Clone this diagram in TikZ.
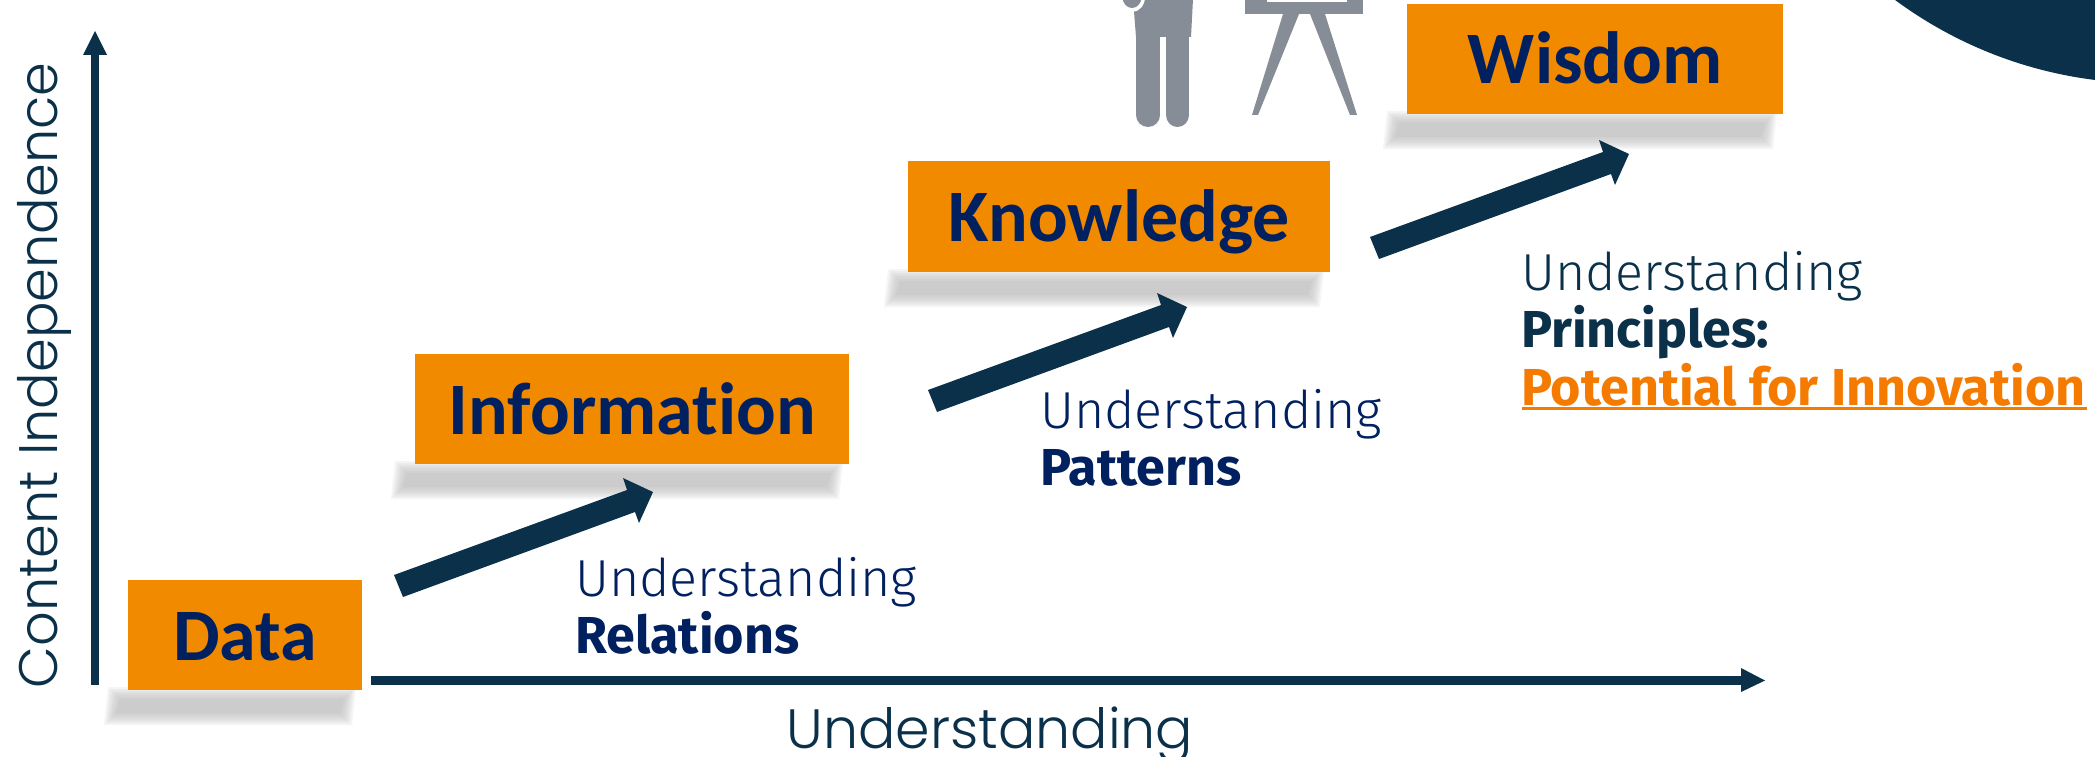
\documentclass[tikz,border=0pt]{standalone}
\usepackage{fontspec}
\setmainfont{Liberation Sans}
\newfontfamily\boxfont[Ligatures=NoCommon]{Carlito}
\newfontfamily\labfont[UprightFont={* Light},BoldFont={* Bold}]{Fira Sans}
\newfontfamily\axfont[UprightFont={* Light}]{Poppins}
\definecolor{navy}{HTML}{0B3049}
\definecolor{blue}{HTML}{002060}
\definecolor{org}{HTML}{F28A00}
\definecolor{orgtext}{HTML}{F47B00}
\definecolor{gr}{HTML}{878D96}
\tikzset{x=1pt,y=-1pt,
 lvl/.style={fill=org,draw=none,inner sep=0,text height=80pt,text depth=30pt,font=\boxfont\bfseries\fontsize{74}{74}\selectfont,text=blue,anchor=north west},
 lab/.style={anchor=north west,inner sep=0,align=left,font=\labfont\fontsize{52}{57.5}\selectfont},
 ax/.style={inner sep=0,text=navy,anchor=base,font=\axfont\fontsize{54.2}{54.2}\selectfont}}
% soft shadow under a box: left, right, bottom
\newcommand{\softshadow}[3]{%
 \foreach \e/\g in {12/4,10/8,8/11,6/14,4/16,2/18,0/20}{%
  \fill[black!\g] (#1-8-\e,#3+9-\e) -- (#2-18+\e,#3+9-\e) -- (#2-22+\e,#3+23+\e) -- (#1-12-\e,#3+23+\e) -- cycle;}}
\newcommand{\fatarrow}[2]{%
 \fill[navy,shift={(#1,#2)}] (0,0) -- (233,-85) -- (229,-97) -- (259,-83) -- (245,-52) -- (241,-63) -- (9,22) -- cycle;}
\begin{document}
\begin{tikzpicture}
\useasboundingbox (0,0) rectangle (2095,757);
\fill[white] (0,0) rectangle (2095,757);
\begin{scope}
\clip (0,0) rectangle (2095,757);
\fill[navy] (2148.5,-343.7) circle (427);
% person
\fill[gr] (1133,-1) -- (1193,-1) -- (1191,37) -- (1136,37) -- cycle;
\fill[white] (1132,-3) ellipse (13 and 15);
\fill[gr] (1132,-3) ellipse (9.5 and 11);
\fill[gr] (1136,36) rectangle (1160,115);
\fill[gr] (1148,115) ellipse (12 and 12);
\fill[gr] (1166,36) rectangle (1189,115);
\fill[gr] (1177.5,115) ellipse (11.5 and 12);
% easel
\fill[gr] (1245,-1) rectangle (1363,14);
\fill[white] (1267,-1) rectangle (1347,2);
\fill[gr] (1283,14) -- (1299,14) -- (1258,115) -- (1252,115) -- cycle;
\fill[gr] (1310,14) -- (1325,14) -- (1357,115) -- (1350,115) -- cycle;
\end{scope}
% shadows
\softshadow{128}{362}{690}
\softshadow{415}{849}{464}
\softshadow{908}{1330}{272}
\softshadow{1407}{1783}{114}
% boxes
\node[lvl,minimum width=234,minimum height=110] (data) at (128,580) {Data};
\node[lvl,minimum width=434,minimum height=110] (info) at (415,354) {Information};
\node[lvl,minimum width=422,minimum height=111] (know) at (908,161) {Knowledge};
\node[lvl,minimum width=376,minimum height=110,text height=79pt,text depth=31pt] (wis) at (1407,4) {Wisdom};
% arrows
\fatarrow{394}{575}
\fatarrow{928}{390}
\fatarrow{1370}{237}
% labels
\node[lab,text=blue] (l1) at (575,557) {Understanding\\\textbf{Relations}};
\node[lab,text=blue] (l2) at (1040,389) {Understanding\\\textbf{Patterns}};
\node[lab,text=navy] (l3) at (1521,251) {Understanding\\\textbf{Principles:}\\{\color{orgtext}\textbf{Potential for Innovation}}};
\fill[orgtext] (1522,407) rectangle (2087,410);
% axes
\fill[navy] (91,685) rectangle (99,55);
\fill[navy] (83,55) -- (95,31) -- (107,55) -- cycle;
\fill[navy] (371,676) rectangle (1742,685);
\fill[navy] (1741,668) -- (1765,680.5) -- (1741,692) -- cycle;
\node[ax,rotate=90] (yl) at (57,375.5) {Content Independence};
\node[ax,font=\axfont\fontsize{55.4}{55.4}\selectfont] (xl) at (990,748) {Understanding};
\end{tikzpicture}
\end{document}
